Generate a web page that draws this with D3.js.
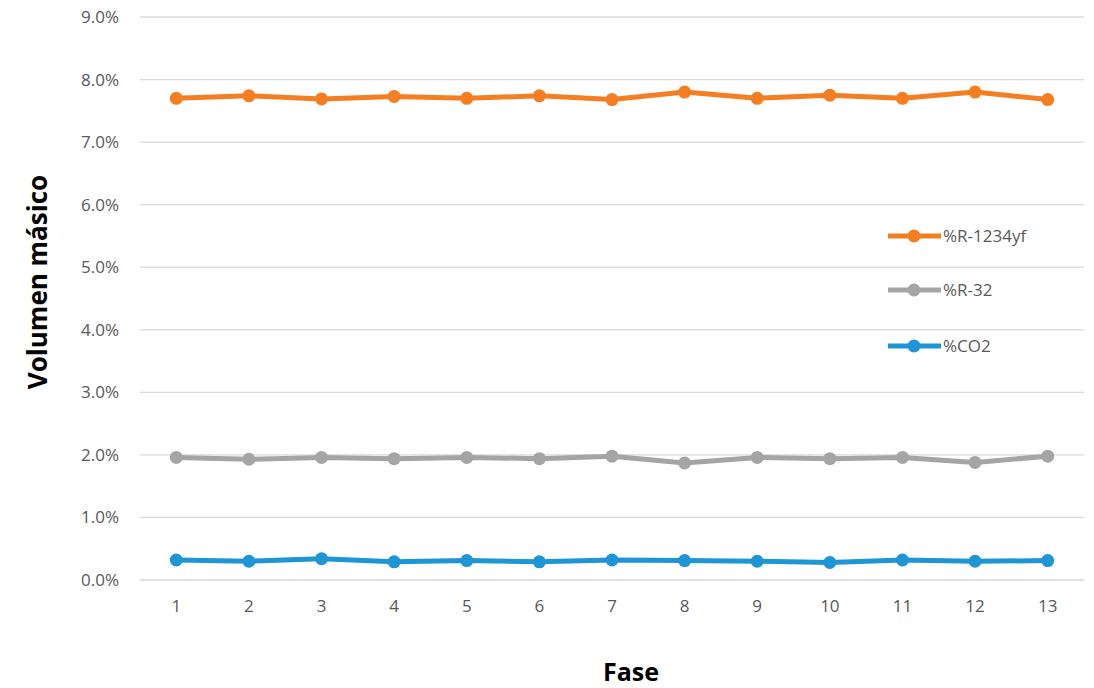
<!DOCTYPE html>
<html>
<head>
<meta charset="utf-8">
<script src="https://cdn.jsdelivr.net/npm/d3@7"></script>
<style>
  html, body { margin: 0; padding: 0; background: #fff; }
  svg { display: block; font-family: "Open Sans", "Noto Sans", sans-serif; }
</style>
</head>
<body>
<svg id="chart" width="1094" height="688"></svg>
<script>
// Phases (x categories)
const fases = ["1","2","3","4","5","6","7","8","9","10","11","12","13"];

// Mass fraction per phase, in percent
const r1234yf = [7.70, 7.74, 7.69, 7.73, 7.70, 7.74, 7.68, 7.80, 7.70, 7.75, 7.70, 7.80, 7.68];
const r32     = [1.96, 1.93, 1.96, 1.94, 1.96, 1.94, 1.98, 1.87, 1.96, 1.94, 1.96, 1.88, 1.98];
const co2     = [0.32, 0.30, 0.34, 0.29, 0.31, 0.29, 0.32, 0.31, 0.30, 0.28, 0.32, 0.30, 0.31];

// Y axis ticks (percent)
const yTicks = [0, 1, 2, 3, 4, 5, 6, 7, 8, 9];

const seriesNames = ["%R-1234yf", "%R-32", "%CO2"];
const seriesValues = [r1234yf, r32, co2];
const seriesColors = ["#F47E22", "#A5A5A5", "#1E95D4"];

const svg = d3.select("#chart");
const plot = { left: 140, right: 1084, top: 17, bottom: 580 };

const x = d3.scaleBand().domain(fases).range([plot.left, plot.right]);
const y = d3.scaleLinear().domain([0, 9]).range([plot.bottom, plot.top]);
const cx = d => x(d) + x.bandwidth() / 2;

// Horizontal gridlines
svg.append("g")
  .selectAll("line")
  .data(yTicks)
  .join("line")
  .attr("x1", plot.left).attr("x2", plot.right)
  .attr("y1", d => y(d)).attr("y2", d => y(d))
  .attr("stroke", "#D9D9D9").attr("stroke-width", 1.3);

// Y axis labels
const yAxis = svg.append("g")
  .attr("transform", `translate(${plot.left},0)`)
  .call(d3.axisLeft(y).tickValues(yTicks).tickFormat(d => d.toFixed(1) + "%").tickSize(0).tickPadding(21));
yAxis.select(".domain").remove();
yAxis.selectAll("text").attr("fill", "#595959").style("font-size", "17px").style("font-family", "'Open Sans', sans-serif");

// X axis labels
const xAxis = svg.append("g")
  .attr("transform", `translate(0,${plot.bottom})`)
  .call(d3.axisBottom(x).tickSize(0).tickPadding(20));
xAxis.select(".domain").remove();
xAxis.selectAll("text").attr("fill", "#595959").style("font-size", "17px").style("font-family", "'Open Sans', sans-serif");

// Axis titles
svg.append("text")
  .attr("transform", "translate(47,282) rotate(-90)")
  .attr("text-anchor", "middle")
  .attr("font-weight", "bold").attr("font-size", 26).attr("fill", "#000")
  .text("Volumen másico");

svg.append("text")
  .attr("x", 631).attr("y", 681)
  .attr("text-anchor", "middle")
  .attr("font-weight", "bold").attr("font-size", 25).attr("fill", "#000")
  .text("Fase");

// Series lines and markers
const line = d3.line().x((d, i) => cx(fases[i])).y(d => y(d));
seriesValues.forEach((vals, k) => {
  const g = svg.append("g");
  g.append("path")
    .datum(vals)
    .attr("d", line)
    .attr("fill", "none")
    .attr("stroke", seriesColors[k])
    .attr("stroke-width", 5)
    .attr("stroke-linejoin", "round");
  g.selectAll("circle")
    .data(vals)
    .join("circle")
    .attr("cx", (d, i) => cx(fases[i]))
    .attr("cy", d => y(d))
    .attr("r", 6.5)
    .attr("fill", seriesColors[k]);
});

// Legend
const legendY = [236, 290, 346];
const legend = svg.append("g");
seriesNames.forEach((name, k) => {
  const ly = legendY[k];
  legend.append("line")
    .attr("x1", 888).attr("x2", 941)
    .attr("y1", ly).attr("y2", ly)
    .attr("stroke", seriesColors[k]).attr("stroke-width", 5);
  legend.append("circle")
    .attr("cx", 914).attr("cy", ly).attr("r", 6.5)
    .attr("fill", seriesColors[k]);
  legend.append("text")
    .attr("x", 943).attr("y", ly + 6)
    .attr("fill", "#595959").attr("font-size", 17)
    .text(name);
});
</script>
</body>
</html>
